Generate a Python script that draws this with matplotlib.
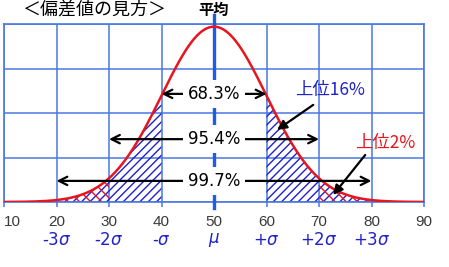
import numpy as np
import matplotlib
matplotlib.use("Agg")
import matplotlib.pyplot as plt

plt.rcParams['font.family'] = ['DejaVu Sans', 'Noto Sans CJK JP']
plt.rcParams['hatch.linewidth'] = 1.0

# ---- data ----
mean = 50
sd = 10
x_ticks = [10, 20, 30, 40, 50, 60, 70, 80, 90]
sigma_pos = [20, 30, 40, 50, 60, 70, 80]
sigma_labels = ['-3$\\sigma$', '-2$\\sigma$', '-$\\sigma$', '$\\mu$', '+$\\sigma$', '+2$\\sigma$', '+3$\\sigma$']
range_labels = ['68.3%', '95.4%', '99.7%']
range_lo = [40, 30, 20]
range_hi = [60, 70, 80]
range_y = [0.0246, 0.0143, 0.0048]
title = '＜偏差値の見方＞'
mean_label = '平均'
top16_label = '上位16%'
top2_label = '上位2%'

GRID = '#4a78e0'
BLUE = '#2020cc'
RED = '#e8141e'

fig = plt.figure(figsize=(4.49, 2.67), dpi=100)
ax = fig.add_axes([4/449, (267-202)/267, 420/449, 178/267])
ymax = 0.0405
ax.set_xlim(10, 90)
ax.set_ylim(0, ymax)

xs = np.linspace(10, 90, 801)
pdf = np.exp(-0.5 * ((xs - mean) / sd) ** 2) / (sd * np.sqrt(2 * np.pi))

# grid
ax.set_xticks(x_ticks)
ax.set_yticks(np.linspace(0, ymax, 5))
ax.grid(True, color=GRID, lw=1.1)
ax.set_axisbelow(True)
for s in ax.spines.values():
    s.set_color(GRID)
    s.set_linewidth(1.2)
ax.tick_params(axis='y', left=False, labelleft=False)
ax.tick_params(axis='x', direction='out', length=3.5, width=1.1, color=GRID,
               pad=6, labelsize=11, labelcolor='#3a3a3a')
for lab in ax.get_xticklabels():
    lab.set_fontfamily('Liberation Sans')
ax.get_xticklabels()[0].set_horizontalalignment('left')

# hatched tails
m = (xs >= mean - 3*sd) & (xs <= mean - sd)
ax.fill_between(xs[m], 0, pdf[m], facecolor='none', edgecolor=BLUE, hatch='////', lw=0, zorder=2)
m = (xs >= mean + sd) & (xs <= mean + 3*sd)
ax.fill_between(xs[m], 0, pdf[m], facecolor='none', edgecolor=BLUE, hatch='////', lw=0, zorder=2)
m = (xs >= mean - 3*sd) & (xs <= mean - 2*sd)
ax.fill_between(xs[m], 0, pdf[m], facecolor='none', edgecolor=RED, hatch='\\\\\\', lw=0, zorder=2)
m = (xs >= mean + 2*sd) & (xs <= mean + 3*sd)
ax.fill_between(xs[m], 0, pdf[m], facecolor='none', edgecolor=RED, hatch='\\\\\\', lw=0, zorder=2)

# mean line
ax.axvline(mean, ymin=-0.035, ymax=1.05, color='#1a5ee8', lw=2.4, clip_on=False, zorder=3)

# curve
ax.plot(xs, pdf, color=RED, lw=1.8, zorder=4)

# range arrows
for lab, lo, hi, y in zip(range_labels, range_lo, range_hi, range_y):
    for end in (lo, hi):
        ax.annotate('', xy=(end, y), xytext=(mean, y),
                    arrowprops=dict(arrowstyle='->', color='black', lw=1.6,
                                    shrinkA=0, shrinkB=0, mutation_scale=15),
                    zorder=5)
    ax.text(mean, y, lab, ha='center', va='center', fontsize=12, color='black', zorder=6,
            bbox=dict(boxstyle='square,pad=0.3', fc='white', ec='none'))

# callouts
ax.text(72.1, 0.0255, top16_label, ha='center', va='center', fontsize=12.5,
        color=BLUE, family=['Noto Sans CJK JP'], zorder=6)
ax.annotate('', xy=(62.0, 0.0164), xytext=(68.9, 0.0221),
            arrowprops=dict(arrowstyle='-|>', color='black', lw=1.6,
                            shrinkA=0, shrinkB=0, mutation_scale=14), zorder=6)
ax.text(82.6, 0.0134, top2_label, ha='center', va='center', fontsize=12.5,
        color=RED, family=['Noto Sans CJK JP'], zorder=6)
ax.annotate('', xy=(72.7, 0.0016), xytext=(78.8, 0.0107),
            arrowprops=dict(arrowstyle='-|>', color='black', lw=1.6,
                            shrinkA=0, shrinkB=0, mutation_scale=14), zorder=6)

# sigma labels
for p, lab in zip(sigma_pos, sigma_labels):
    ax.annotate(lab, xy=(p, 0), xycoords=('data', 'axes fraction'),
                xytext=(0, -27.5), textcoords='offset points', ha='center', va='center',
                fontsize=12, color=BLUE)

# title & mean label
ax.text(13.4, 1.079, title, transform=ax.get_xaxis_transform(), ha='left', va='center',
        fontsize=13, family=['Noto Sans CJK JP'], color='black')
ax.text(mean, 1.079, mean_label, transform=ax.get_xaxis_transform(), ha='center', va='center',
        fontsize=11, family=['Noto Sans CJK JP'], fontweight='bold', color='black')

fig.savefig('out.png', dpi=100, facecolor='white')
